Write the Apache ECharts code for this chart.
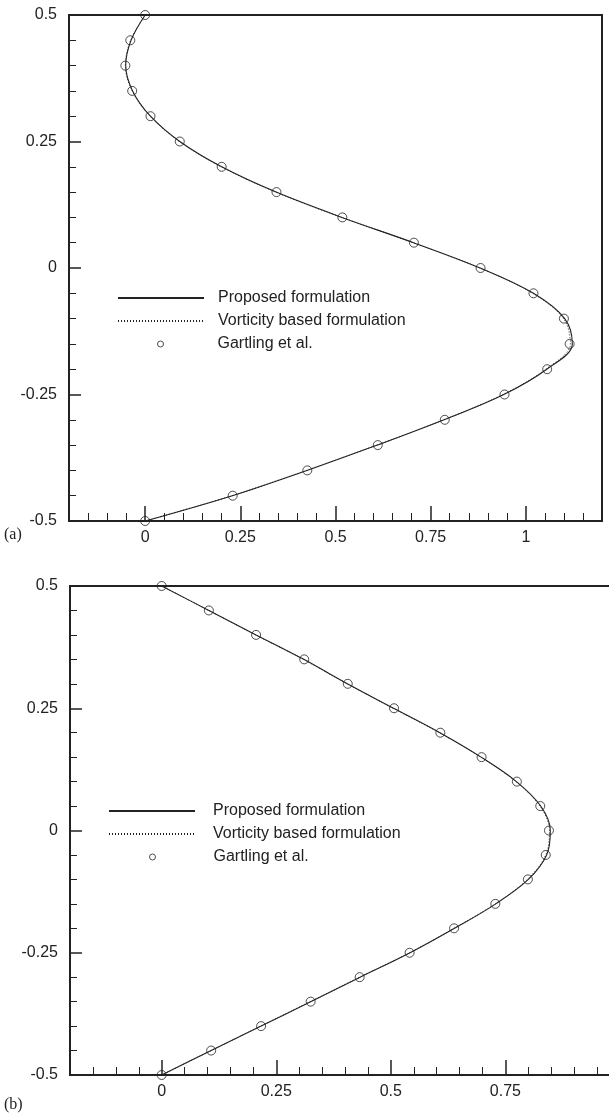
<!DOCTYPE html>
<html>
<head>
<meta charset="utf-8">
<script src="https://cdn.jsdelivr.net/npm/echarts@6/dist/echarts.min.js"></script>
<style>
  html, body { margin: 0; padding: 0; background: #fff; }
  #chart { width: 609px; height: 1118px; }
</style>
</head>
<body>
<div id="chart"></div>
<script>
// Vertical positions shared by every profile (y from 0.5 down to -0.5)
const yLevels = [0.5, 0.45, 0.4, 0.35, 0.3, 0.25, 0.2, 0.15, 0.1, 0.05, 0,
                 -0.05, -0.1, -0.15, -0.2, -0.25, -0.3, -0.35, -0.4, -0.45, -0.5];

// Panel (a) profiles
const proposedA  = [0, -0.037, -0.051, -0.033, 0.014, 0.091, 0.201, 0.344, 0.517, 0.705, 0.880, 1.020, 1.102, 1.122, 1.055, 0.942, 0.785, 0.610, 0.425, 0.229, 0];
const vorticityA = [0, -0.038, -0.052, -0.034, 0.013, 0.090, 0.200, 0.343, 0.516, 0.704, 0.879, 1.018, 1.099, 1.117, 1.052, 0.940, 0.784, 0.609, 0.424, 0.228, 0];
const gartlingA  = [0, -0.039, -0.052, -0.034, 0.014, 0.091, 0.201, 0.345, 0.518, 0.706, 0.881, 1.020, 1.100, 1.115, 1.056, 0.944, 0.787, 0.611, 0.426, 0.230, 0];

// Panel (b) profiles
const proposedB  = [0, 0.103, 0.206, 0.310, 0.405, 0.506, 0.607, 0.697, 0.774, 0.827, 0.848, 0.840, 0.800, 0.729, 0.639, 0.542, 0.433, 0.325, 0.217, 0.108, 0];
const vorticityB = [0, 0.103, 0.205, 0.309, 0.405, 0.505, 0.606, 0.696, 0.773, 0.825, 0.846, 0.838, 0.798, 0.728, 0.638, 0.541, 0.432, 0.324, 0.216, 0.108, 0];
const gartlingB  = [0, 0.103, 0.206, 0.311, 0.406, 0.507, 0.608, 0.698, 0.775, 0.826, 0.845, 0.838, 0.799, 0.728, 0.638, 0.541, 0.432, 0.325, 0.217, 0.108, 0];

// labelled x ticks of each panel
const xTicksA = [0, 0.25, 0.5, 0.75, 1];
const xTicksB = [0, 0.25, 0.5, 0.75];
const seriesNames = ['Proposed formulation', 'Vorticity based formulation', 'Gartling et al.'];

const INK = '#222';
const FONT = '"Liberation Sans", Arial, sans-serif';
const CLEAR = 'rgba(0,0,0,0)';
const X_MIN = -0.2, X_STEP = 0.05;

const pairs = (xs) => xs.map((x, i) => [x, yLevels[i]]);

const chart = echarts.init(document.getElementById('chart'), null, { renderer: 'canvas' });

const BOX_A = { left: 69, top: 15, width: 533, height: 506, xMax: 1.2 };
const BOX_B = { left: 70, top: 586, width: 550, height: 489, xMax: 1.0 };

function gridBox(box) {
  return {
    left: box.left, top: box.top, width: box.width, height: box.height,
    outerBoundsMode: 'none',
    show: true, borderColor: INK, borderWidth: 2, backgroundColor: 'transparent'
  };
}

// overlay grid covering the x range [a, b] of a panel, so that the axis
// placed on it starts exactly on one of its own ticks
function rangeBox(box, a, b) {
  const px = (v) => box.left + (v - X_MIN) / (box.xMax - X_MIN) * box.width;
  return {
    left: px(a), width: px(b) - px(a), top: box.top, height: box.height,
    outerBoundsMode: 'none', show: false
  };
}

const noLine = { show: false, onZero: false };

// value axis carrying the data (its ticks come from the overlays)
function xDataAxis(gridIndex, max) {
  return {
    gridIndex, type: 'value', position: 'bottom', min: X_MIN, max,
    axisLine: noLine, axisTick: { show: false }, axisLabel: { show: false }, splitLine: { show: false }
  };
}

// labelled range: long ticks every 0.25, short ones every 0.05
function xLabelAxis(gridIndex, ticks) {
  return {
    gridIndex, type: 'value', position: 'bottom',
    min: ticks[0], max: ticks[ticks.length - 1], interval: ticks[1] - ticks[0],
    axisLine: noLine,
    axisTick: { show: true, inside: true, length: 15, lineStyle: { color: INK, width: 1.5 } },
    minorTick: { show: true, splitNumber: 5, length: 8, lineStyle: { color: INK, width: 1 } },
    axisLabel: { show: true, margin: 9, color: INK, fontFamily: FONT, fontSize: 16 },
    splitLine: { show: false }
  };
}

// unlabelled end ranges: short ticks every 0.05
function xFineAxis(gridIndex, min, max) {
  return {
    gridIndex, type: 'value', position: 'bottom', min, max, interval: X_STEP,
    axisLine: noLine,
    axisTick: { show: true, inside: true, length: 8, lineStyle: { color: INK, width: 1 } },
    axisLabel: { show: false }, splitLine: { show: false }
  };
}

function yAxisFor(gridIndex) {
  return {
    gridIndex, type: 'value', min: -0.5, max: 0.5, interval: 0.25,
    axisLine: noLine,
    axisTick: { show: true, inside: true, length: 12, lineStyle: { color: INK, width: 1.5 } },
    minorTick: { show: true, splitNumber: 5, length: 7, lineStyle: { color: INK, width: 1 } },
    axisLabel: { show: true, margin: 12, color: INK, fontFamily: FONT, fontSize: 16 },
    splitLine: { show: false }
  };
}

function hiddenY(gridIndex) {
  return { gridIndex, type: 'value', min: -0.5, max: 0.5, show: false };
}

function panelSeries(xAxisIndex, yAxisIndex, prop, vort, gart) {
  return [
    {
      name: seriesNames[0], type: 'line', xAxisIndex, yAxisIndex,
      data: pairs(prop), smooth: 0.35, symbol: 'none', z: 3,
      lineStyle: { color: INK, width: 1.1, type: 'solid' }, itemStyle: { color: INK }
    },
    {
      name: seriesNames[1], type: 'line', xAxisIndex, yAxisIndex,
      data: pairs(vort), smooth: 0.35, symbol: 'none', z: 2,
      lineStyle: { color: INK, width: 1, type: [1, 2] }, itemStyle: { color: INK }
    },
    {
      name: seriesNames[2], type: 'scatter', xAxisIndex, yAxisIndex,
      data: pairs(gart), symbol: 'circle', symbolSize: 9, z: 4,
      itemStyle: { color: CLEAR, borderColor: INK, borderWidth: 1 }
    }
  ];
}

// legend: line samples in one block, the circle marker in its own block
function legendsFor(left, top, rowStep, circleLeft, circleTop, textPad) {
  const text = { color: INK, fontFamily: FONT, fontSize: 16, padding: [0, 0, 0, textPad] };
  const hiddenDot = { color: CLEAR, borderColor: CLEAR, borderWidth: 0, opacity: 0 };
  return [
    {
      orient: 'vertical', left, top, padding: 0, itemWidth: 86, itemHeight: 14,
      itemGap: rowStep - 16, selectedMode: false,
      data: [
        { name: seriesNames[0], itemStyle: hiddenDot },
        { name: seriesNames[1], itemStyle: hiddenDot }
      ],
      textStyle: text
    },
    {
      orient: 'vertical', left: circleLeft, top: circleTop, padding: 0,
      itemWidth: 86, itemHeight: 6, selectedMode: false,
      data: [{ name: seriesNames[2], icon: 'circle',
               itemStyle: { color: '#fff', borderColor: INK, borderWidth: 1 } }],
      textStyle: text
    }
  ];
}

const lastA = xTicksA[xTicksA.length - 1];
const lastB = xTicksB[xTicksB.length - 1];
const r2 = (v) => +v.toFixed(2);

const option = {
  backgroundColor: '#fff',
  animation: false,
  grid: [
    gridBox(BOX_A),                                                // 0
    gridBox(BOX_B),                                                // 1
    rangeBox(BOX_A, xTicksA[0], lastA),                            // 2
    rangeBox(BOX_A, X_MIN, r2(xTicksA[0] - X_STEP)),               // 3
    rangeBox(BOX_A, r2(lastA + X_STEP), BOX_A.xMax),               // 4
    rangeBox(BOX_B, xTicksB[0], lastB),                            // 5
    rangeBox(BOX_B, X_MIN, r2(xTicksB[0] - X_STEP)),               // 6
    rangeBox(BOX_B, r2(lastB + X_STEP), BOX_B.xMax)                // 7
  ],
  xAxis: [
    xDataAxis(0, BOX_A.xMax),
    xDataAxis(1, BOX_B.xMax),
    xLabelAxis(2, xTicksA),
    xFineAxis(3, X_MIN, r2(xTicksA[0] - X_STEP)),
    xFineAxis(4, r2(lastA + X_STEP), BOX_A.xMax),
    xLabelAxis(5, xTicksB),
    xFineAxis(6, X_MIN, r2(xTicksB[0] - X_STEP)),
    xFineAxis(7, r2(lastB + X_STEP), BOX_B.xMax)
  ],
  yAxis: [yAxisFor(0), yAxisFor(1), hiddenY(2), hiddenY(3), hiddenY(4), hiddenY(5), hiddenY(6), hiddenY(7)],
  legend: [
    ...legendsFor(117, 290, 23, 157, 336, 9),
    ...legendsFor(108, 803, 23, 149, 849, 13)
  ],
  series: [
    ...panelSeries(0, 0, proposedA, vorticityA, gartlingA),
    ...panelSeries(1, 1, proposedB, vorticityB, gartlingB)
  ],
  graphic: [
    { type: 'text', left: 4, top: 527,
      style: { text: '(a)', fill: INK, font: '16px "Liberation Serif", "Times New Roman", serif' } },
    { type: 'text', left: 4, top: 1097,
      style: { text: '(b)', fill: INK, font: '16px "Liberation Serif", "Times New Roman", serif' } }
  ]
};

chart.setOption(option);
</script>
</body>
</html>
